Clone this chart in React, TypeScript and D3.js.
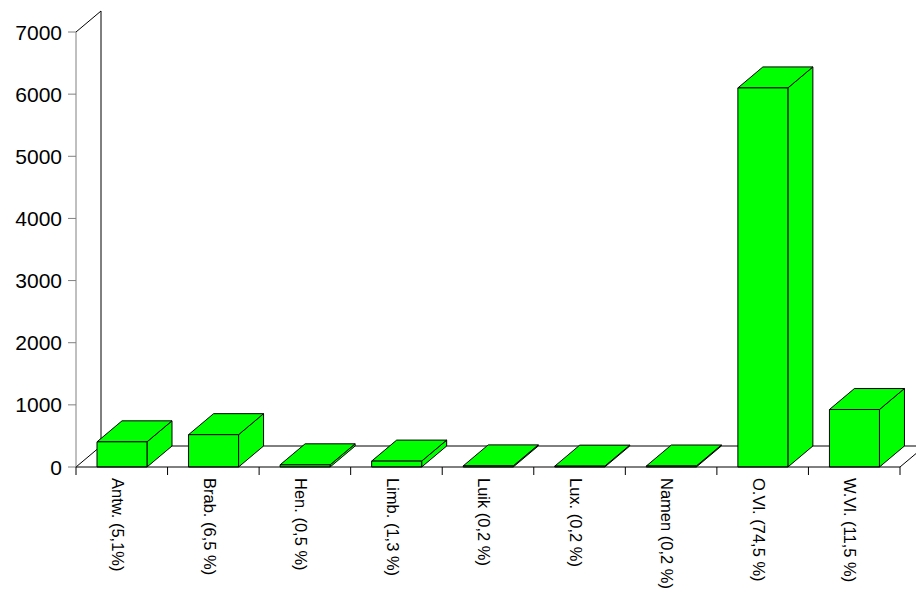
import React from 'react';
import * as d3 from 'd3';

const categories = ['Antw. (5,1%)', 'Brab. (6,5 %)', 'Hen. (0,5 %)', 'Limb. (1,3 %)', 'Luik (0,2 %)', 'Lux. (0,2 %)', 'Namen (0,2 %)', 'O.Vl. (74,5 %)', 'W.Vl. (11,5 %)'];
const values = [405, 520, 35, 95, 18, 14, 16, 6100, 925];
const yTicks = [0, 1000, 2000, 3000, 4000, 5000, 6000, 7000];

const W = 916, H = 593;
const x0 = 76, x1 = 900, yBase = 467, yTop = 32;
const dx = 25, dy = -21;

export default function App() {
  const x = d3.scaleBand<string>().domain(categories).range([x0, x1]).paddingInner(0).paddingOuter(0);
  const y = d3.scaleLinear().domain([0, 7000]).range([yBase, yTop]);
  const bw = 50;
  const off = 21;
  return (
    <svg width={W} height={H} style={{ position: 'absolute', left: 0, top: 0 }} fontFamily="Arial, Liberation Sans, sans-serif">
      <rect width={W} height={H} fill="#fff" />
      {/* back wall + floor */}
      <line x1={x0 + dx} y1={yTop + dy} x2={x0 + dx} y2={yBase + dy} stroke="#000" />
      <line x1={x0 + dx} y1={yBase + dy} x2={W} y2={yBase + dy} stroke="#000" />
      <line x1={x0} y1={yTop} x2={x0 + dx} y2={yTop + dy} stroke="#000" />
      <line x1={x0} y1={yBase} x2={x0 + dx} y2={yBase + dy} stroke="#000" />
      <line x1={x1} y1={yBase} x2={x1 + dx} y2={yBase + dy} stroke="#000" />
      {/* y axis */}
      <line x1={x0} y1={yTop} x2={x0} y2={yBase} stroke="#808080" />
      {yTicks.map(t => (
        <g key={t}>
          <line x1={x0 - 8} x2={x0} y1={y(t)} y2={y(t)} stroke="#808080" />
          <text x={62} y={y(t)} dy="0.36em" textAnchor="end" fontSize={21}>{t}</text>
        </g>
      ))}
      {/* bars */}
      {categories.map((c, i) => {
        const bx = (x(c) as number) + off;
        const by = y(values[i]);
        return (
          <g key={c} stroke="#000" strokeWidth={1} fill="#00ff00" strokeLinejoin="round">
            <polygon points={`${bx + bw},${yBase} ${bx + bw + dx},${yBase + dy} ${bx + bw + dx},${by + dy} ${bx + bw},${by}`} />
            <polygon points={`${bx},${by} ${bx + dx},${by + dy} ${bx + bw + dx},${by + dy} ${bx + bw},${by}`} />
            <rect x={bx} y={by} width={bw} height={yBase - by} />
          </g>
        );
      })}
      {/* x axis */}
      <line x1={x0} y1={yBase} x2={x1} y2={yBase} stroke="#000" />
      {categories.map((c, i) => (
        <line key={'t' + i} x1={x0 + i * x.bandwidth()} x2={x0 + i * x.bandwidth()} y1={yBase} y2={yBase + 8} stroke="#000" />
      ))}
      <line x1={x1} x2={x1} y1={yBase} y2={yBase + 8} stroke="#000" />
      {categories.map(c => {
        const cx = (x(c) as number) + x.bandwidth() / 2 - 4;
        return (
          <text key={'l' + c} transform={`translate(${cx},${yBase + 11}) rotate(90)`} fontSize={16.5} dy="0.35em">{c}</text>
        );
      })}
    </svg>
  );
}
